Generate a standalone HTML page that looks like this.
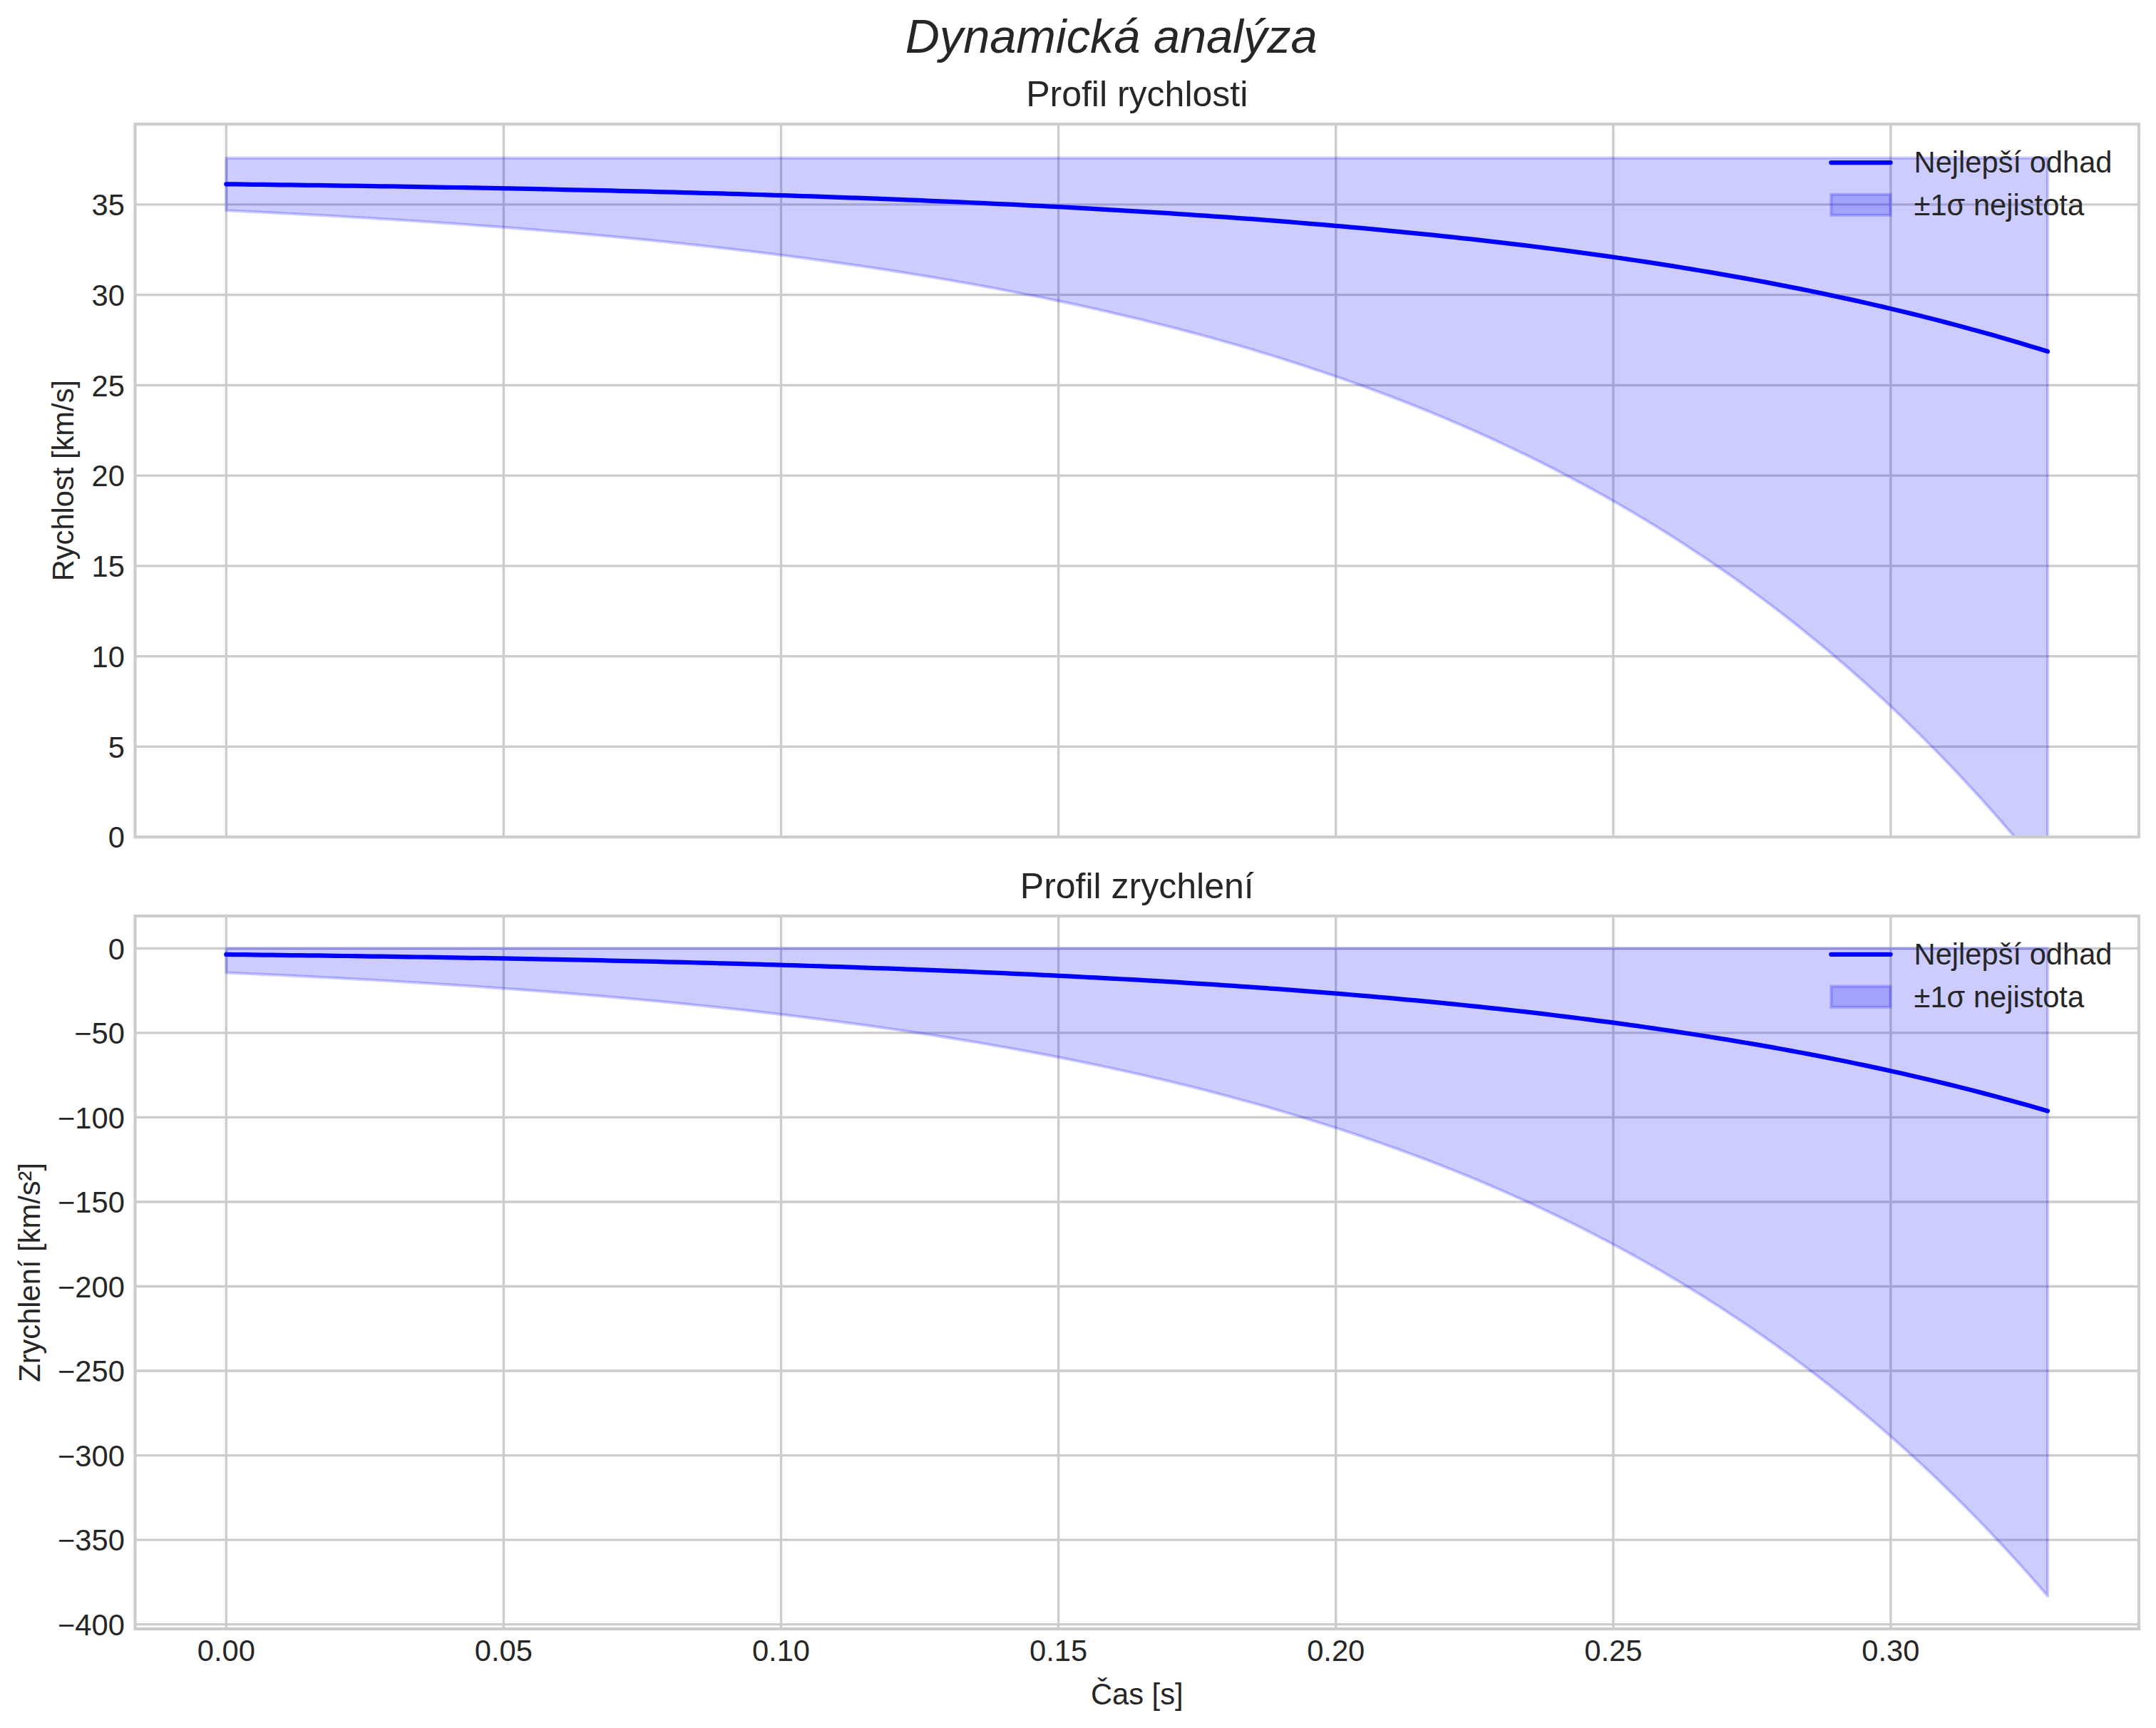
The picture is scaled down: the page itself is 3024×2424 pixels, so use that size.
<!DOCTYPE html>
<html lang="cs"><head><meta charset="utf-8"><title>Dynamická analýza</title>
<style>html,body{margin:0;padding:0;background:#fff;overflow:hidden}body{width:3024px;height:2424px}svg{display:block}text{font-family:"Liberation Sans",sans-serif;fill:#262626}</style>
</head><body>
<svg width="3024" height="2424" viewBox="0 0 3024 2424">
<rect width="3024" height="2424" fill="#fff"/>
<defs><clipPath id="c1"><rect x="189.5" y="174.1" width="2810.5" height="1000.1"/></clipPath><clipPath id="c2"><rect x="189.5" y="1284.9" width="2810.5" height="1000"/></clipPath></defs>
<g clip-path="url(#c1)">
<g stroke="#cccccc" stroke-width="3.33" fill="none">
<line x1="317.3" y1="174.1" x2="317.3" y2="1174.2"/>
<line x1="706.4" y1="174.1" x2="706.4" y2="1174.2"/>
<line x1="1095.5" y1="174.1" x2="1095.5" y2="1174.2"/>
<line x1="1484.6" y1="174.1" x2="1484.6" y2="1174.2"/>
<line x1="1873.7" y1="174.1" x2="1873.7" y2="1174.2"/>
<line x1="2262.8" y1="174.1" x2="2262.8" y2="1174.2"/>
<line x1="2651.9" y1="174.1" x2="2651.9" y2="1174.2"/>
<line x1="189.5" y1="1174.2" x2="3000" y2="1174.2"/>
<line x1="189.5" y1="1047.45" x2="3000" y2="1047.45"/>
<line x1="189.5" y1="920.7" x2="3000" y2="920.7"/>
<line x1="189.5" y1="793.95" x2="3000" y2="793.95"/>
<line x1="189.5" y1="667.2" x2="3000" y2="667.2"/>
<line x1="189.5" y1="540.45" x2="3000" y2="540.45"/>
<line x1="189.5" y1="413.7" x2="3000" y2="413.7"/>
<line x1="189.5" y1="286.95" x2="3000" y2="286.95"/>
</g>
<polygon points="317.3,295.26 330.14,295.87 342.98,296.49 355.81,297.11 368.65,297.75 381.49,298.4 394.33,299.06 407.17,299.73 420,300.41 432.84,301.1 445.68,301.8 458.52,302.52 471.36,303.25 484.19,303.98 497.03,304.74 509.87,305.5 522.71,306.28 535.55,307.07 548.38,307.87 561.22,308.68 574.06,309.51 586.9,310.36 599.73,311.21 612.57,312.09 625.41,312.97 638.25,313.87 651.09,314.79 663.92,315.72 676.76,316.67 689.6,317.63 702.44,318.61 715.28,319.6 728.11,320.61 740.95,321.64 753.79,322.69 766.63,323.75 779.47,324.83 792.3,325.93 805.14,327.04 817.98,328.18 830.82,329.33 843.66,330.51 856.49,331.7 869.33,332.91 882.17,334.14 895.01,335.4 907.85,336.67 920.68,337.97 933.52,339.28 946.36,340.62 959.2,341.98 972.04,343.36 984.87,344.77 997.71,346.2 1010.55,347.65 1023.39,349.13 1036.23,350.63 1049.06,352.16 1061.9,353.71 1074.74,355.29 1087.58,356.9 1100.42,358.53 1113.25,360.19 1126.09,361.87 1138.93,363.59 1151.77,365.33 1164.6,367.1 1177.44,368.9 1190.28,370.74 1203.12,372.6 1215.96,374.49 1228.79,376.41 1241.63,378.37 1254.47,380.36 1267.31,382.38 1280.15,384.44 1292.98,386.53 1305.82,388.65 1318.66,390.81 1331.5,393.01 1344.34,395.24 1357.17,397.51 1370.01,399.82 1382.85,402.16 1395.69,404.54 1408.53,406.97 1421.36,409.43 1434.2,411.94 1447.04,414.49 1459.88,417.08 1472.72,419.71 1485.55,422.38 1498.39,425.11 1511.23,427.87 1524.07,430.68 1536.91,433.54 1549.74,436.45 1562.58,439.4 1575.42,442.41 1588.26,445.46 1601.1,448.57 1613.93,451.72 1626.77,454.93 1639.61,458.19 1652.45,461.51 1665.29,464.88 1678.12,468.31 1690.96,471.79 1703.8,475.34 1716.64,478.94 1729.47,482.6 1742.31,486.32 1755.15,490.11 1767.99,493.95 1780.83,497.87 1793.66,501.84 1806.5,505.88 1819.34,509.99 1832.18,514.17 1845.02,518.42 1857.85,522.74 1870.69,527.13 1883.53,531.59 1896.37,536.13 1909.21,540.74 1922.04,545.43 1934.88,550.2 1947.72,555.05 1960.56,559.97 1973.4,564.98 1986.23,570.08 1999.07,575.25 2011.91,580.52 2024.75,585.87 2037.59,591.31 2050.42,596.84 2063.26,602.46 2076.1,608.18 2088.94,613.99 2101.78,619.9 2114.61,625.9 2127.45,632.01 2140.29,638.22 2153.13,644.53 2165.97,650.94 2178.8,657.47 2191.64,664.1 2204.48,670.84 2217.32,677.69 2230.16,684.66 2242.99,691.74 2255.83,698.94 2268.67,706.27 2281.51,713.71 2294.34,721.28 2307.18,728.97 2320.02,736.79 2332.86,744.74 2345.7,752.82 2358.53,761.04 2371.37,769.39 2384.21,777.89 2397.05,786.52 2409.89,795.3 2422.72,804.22 2435.56,813.29 2448.4,822.52 2461.24,831.89 2474.08,841.43 2486.91,851.12 2499.75,860.97 2512.59,870.99 2525.43,881.17 2538.27,891.52 2551.1,902.04 2563.94,912.74 2576.78,923.62 2589.62,934.68 2602.46,945.92 2615.29,957.35 2628.13,968.97 2640.97,980.78 2653.81,992.79 2666.65,1005 2679.48,1017.41 2692.32,1030.03 2705.16,1042.86 2718,1055.9 2730.84,1069.16 2743.67,1082.64 2756.51,1096.34 2769.35,1110.27 2782.19,1124.44 2795.03,1138.84 2807.86,1153.47 2820.7,1168.36 2833.54,1183.49 2846.38,1198.87 2859.21,1214.5 2872.05,1230.4 2872.05,221.67 317.3,221.67" fill="#0000ff" fill-opacity="0.2" stroke="#0000ff" stroke-opacity="0.2" stroke-width="4.17" stroke-linejoin="round"/>
<polyline points="317.3,258.33 330.14,258.48 342.98,258.64 355.81,258.79 368.65,258.95 381.49,259.12 394.33,259.28 407.17,259.45 420,259.62 432.84,259.79 445.68,259.97 458.52,260.15 471.36,260.33 484.19,260.52 497.03,260.71 509.87,260.9 522.71,261.09 535.55,261.29 548.38,261.49 561.22,261.7 574.06,261.91 586.9,262.12 599.73,262.33 612.57,262.55 625.41,262.78 638.25,263 651.09,263.23 663.92,263.47 676.76,263.7 689.6,263.94 702.44,264.19 715.28,264.44 728.11,264.69 740.95,264.95 753.79,265.21 766.63,265.48 779.47,265.75 792.3,266.03 805.14,266.31 817.98,266.59 830.82,266.88 843.66,267.18 856.49,267.48 869.33,267.78 882.17,268.09 895.01,268.4 907.85,268.72 920.68,269.05 933.52,269.38 946.36,269.72 959.2,270.06 972.04,270.4 984.87,270.76 997.71,271.12 1010.55,271.48 1023.39,271.85 1036.23,272.23 1049.06,272.61 1061.9,273 1074.74,273.4 1087.58,273.8 1100.42,274.21 1113.25,274.63 1126.09,275.05 1138.93,275.48 1151.77,275.92 1164.6,276.36 1177.44,276.82 1190.28,277.28 1203.12,277.74 1215.96,278.22 1228.79,278.7 1241.63,279.19 1254.47,279.69 1267.31,280.2 1280.15,280.72 1292.98,281.24 1305.82,281.77 1318.66,282.32 1331.5,282.87 1344.34,283.43 1357.17,284 1370.01,284.58 1382.85,285.17 1395.69,285.76 1408.53,286.37 1421.36,286.99 1434.2,287.62 1447.04,288.26 1459.88,288.91 1472.72,289.57 1485.55,290.24 1498.39,290.93 1511.23,291.62 1524.07,292.33 1536.91,293.04 1549.74,293.77 1562.58,294.51 1575.42,295.27 1588.26,296.04 1601.1,296.82 1613.93,297.61 1626.77,298.41 1639.61,299.23 1652.45,300.06 1665.29,300.91 1678.12,301.77 1690.96,302.65 1703.8,303.54 1716.64,304.44 1729.47,305.36 1742.31,306.29 1755.15,307.24 1767.99,308.21 1780.83,309.19 1793.66,310.19 1806.5,311.2 1819.34,312.24 1832.18,313.28 1845.02,314.35 1857.85,315.44 1870.69,316.54 1883.53,317.66 1896.37,318.8 1909.21,319.96 1922.04,321.13 1934.88,322.33 1947.72,323.55 1960.56,324.78 1973.4,326.04 1986.23,327.32 1999.07,328.62 2011.91,329.94 2024.75,331.28 2037.59,332.65 2050.42,334.04 2063.26,335.45 2076.1,336.88 2088.94,338.34 2101.78,339.83 2114.61,341.33 2127.45,342.87 2140.29,344.43 2153.13,346.01 2165.97,347.62 2178.8,349.26 2191.64,350.92 2204.48,352.62 2217.32,354.34 2230.16,356.08 2242.99,357.86 2255.83,359.67 2268.67,361.51 2281.51,363.38 2294.34,365.28 2307.18,367.21 2320.02,369.17 2332.86,371.17 2345.7,373.2 2358.53,375.26 2371.37,377.36 2384.21,379.49 2397.05,381.66 2409.89,383.86 2422.72,386.1 2435.56,388.38 2448.4,390.69 2461.24,393.05 2474.08,395.44 2486.91,397.87 2499.75,400.35 2512.59,402.86 2525.43,405.42 2538.27,408.02 2551.1,410.66 2563.94,413.34 2576.78,416.07 2589.62,418.85 2602.46,421.67 2615.29,424.54 2628.13,427.46 2640.97,430.42 2653.81,433.44 2666.65,436.5 2679.48,439.62 2692.32,442.79 2705.16,446.01 2718,449.28 2730.84,452.61 2743.67,455.99 2756.51,459.44 2769.35,462.93 2782.19,466.49 2795.03,470.1 2807.86,473.78 2820.7,477.51 2833.54,481.31 2846.38,485.17 2859.21,489.1 2872.05,493.09" fill="none" stroke="#0000ff" stroke-width="6.25" stroke-linecap="round" stroke-linejoin="round"/>
</g>
<rect x="189.5" y="174.1" width="2810.5" height="1000.1" fill="none" stroke="#cccccc" stroke-width="4.17"/>
<text x="1594.75" y="149" font-size="50" text-anchor="middle">Profil rychlosti</text>
<text x="174.9" y="1189" font-size="41.67" text-anchor="end">0</text>
<text x="174.9" y="1063" font-size="41.67" text-anchor="end">5</text>
<text x="174.9" y="936" font-size="41.67" text-anchor="end">10</text>
<text x="174.9" y="809" font-size="41.67" text-anchor="end">15</text>
<text x="174.9" y="682" font-size="41.67" text-anchor="end">20</text>
<text x="174.9" y="556" font-size="41.67" text-anchor="end">25</text>
<text x="174.9" y="429" font-size="41.67" text-anchor="end">30</text>
<text x="174.9" y="302" font-size="41.67" text-anchor="end">35</text>
<text transform="translate(103 674.15) rotate(-90)" font-size="41.67" text-anchor="middle">Rychlost [km/s]</text>
<line x1="2568.3" y1="228" x2="2651.6" y2="228" stroke="#0000ff" stroke-width="6.25" stroke-linecap="round"/>
<text x="2684.6" y="242.2" font-size="41.67">Nejlepší odhad</text>
<rect x="2568.3" y="272.8" width="83.3" height="29.2" fill="#0000ff" fill-opacity="0.2" stroke="#0000ff" stroke-opacity="0.2" stroke-width="4.17"/>
<text x="2684.6" y="301.8" font-size="41.67">±1σ nejistota</text>
<g clip-path="url(#c2)">
<g stroke="#cccccc" stroke-width="3.33" fill="none">
<line x1="317.3" y1="1284.9" x2="317.3" y2="2284.9"/>
<line x1="706.4" y1="1284.9" x2="706.4" y2="2284.9"/>
<line x1="1095.5" y1="1284.9" x2="1095.5" y2="2284.9"/>
<line x1="1484.6" y1="1284.9" x2="1484.6" y2="2284.9"/>
<line x1="1873.7" y1="1284.9" x2="1873.7" y2="2284.9"/>
<line x1="2262.8" y1="1284.9" x2="2262.8" y2="2284.9"/>
<line x1="2651.9" y1="1284.9" x2="2651.9" y2="2284.9"/>
<line x1="189.5" y1="1330.4" x2="3000" y2="1330.4"/>
<line x1="189.5" y1="1448.93" x2="3000" y2="1448.93"/>
<line x1="189.5" y1="1567.45" x2="3000" y2="1567.45"/>
<line x1="189.5" y1="1685.98" x2="3000" y2="1685.98"/>
<line x1="189.5" y1="1804.5" x2="3000" y2="1804.5"/>
<line x1="189.5" y1="1923.03" x2="3000" y2="1923.03"/>
<line x1="189.5" y1="2041.55" x2="3000" y2="2041.55"/>
<line x1="189.5" y1="2160.07" x2="3000" y2="2160.07"/>
<line x1="189.5" y1="2278.6" x2="3000" y2="2278.6"/>
</g>
<polygon points="317.3,1364.49 330.14,1365.05 342.98,1365.63 355.81,1366.22 368.65,1366.81 381.49,1367.42 394.33,1368.03 407.17,1368.66 420,1369.3 432.84,1369.94 445.68,1370.6 458.52,1371.27 471.36,1371.95 484.19,1372.64 497.03,1373.34 509.87,1374.06 522.71,1374.78 535.55,1375.52 548.38,1376.27 561.22,1377.04 574.06,1377.81 586.9,1378.6 599.73,1379.4 612.57,1380.22 625.41,1381.05 638.25,1381.89 651.09,1382.75 663.92,1383.62 676.76,1384.5 689.6,1385.4 702.44,1386.32 715.28,1387.25 728.11,1388.19 740.95,1389.15 753.79,1390.13 766.63,1391.12 779.47,1392.13 792.3,1393.16 805.14,1394.2 817.98,1395.27 830.82,1396.34 843.66,1397.44 856.49,1398.56 869.33,1399.69 882.17,1400.84 895.01,1402.01 907.85,1403.21 920.68,1404.42 933.52,1405.65 946.36,1406.9 959.2,1408.17 972.04,1409.47 984.87,1410.78 997.71,1412.12 1010.55,1413.48 1023.39,1414.86 1036.23,1416.26 1049.06,1417.69 1061.9,1419.14 1074.74,1420.62 1087.58,1422.12 1100.42,1423.65 1113.25,1425.2 1126.09,1426.78 1138.93,1428.38 1151.77,1430.01 1164.6,1431.66 1177.44,1433.35 1190.28,1435.06 1203.12,1436.8 1215.96,1438.57 1228.79,1440.37 1241.63,1442.2 1254.47,1444.06 1267.31,1445.95 1280.15,1447.87 1292.98,1449.83 1305.82,1451.81 1318.66,1453.83 1331.5,1455.89 1344.34,1457.97 1357.17,1460.1 1370.01,1462.25 1382.85,1464.45 1395.69,1466.68 1408.53,1468.94 1421.36,1471.25 1434.2,1473.59 1447.04,1475.97 1459.88,1478.39 1472.72,1480.86 1485.55,1483.36 1498.39,1485.9 1511.23,1488.49 1524.07,1491.12 1536.91,1493.79 1549.74,1496.51 1562.58,1499.27 1575.42,1502.08 1588.26,1504.94 1601.1,1507.84 1613.93,1510.79 1626.77,1513.79 1639.61,1516.84 1652.45,1519.94 1665.29,1523.1 1678.12,1526.3 1690.96,1529.56 1703.8,1532.87 1716.64,1536.24 1729.47,1539.67 1742.31,1543.15 1755.15,1546.69 1767.99,1550.28 1780.83,1553.94 1793.66,1557.66 1806.5,1561.44 1819.34,1565.28 1832.18,1569.19 1845.02,1573.16 1857.85,1577.2 1870.69,1581.31 1883.53,1585.48 1896.37,1589.72 1909.21,1594.03 1922.04,1598.42 1934.88,1602.88 1947.72,1607.41 1960.56,1612.02 1973.4,1616.7 1986.23,1621.47 1999.07,1626.31 2011.91,1631.23 2024.75,1636.23 2037.59,1641.32 2050.42,1646.49 2063.26,1651.75 2076.1,1657.09 2088.94,1662.53 2101.78,1668.05 2114.61,1673.67 2127.45,1679.38 2140.29,1685.18 2153.13,1691.09 2165.97,1697.09 2178.8,1703.19 2191.64,1709.39 2204.48,1715.69 2217.32,1722.1 2230.16,1728.61 2242.99,1735.24 2255.83,1741.97 2268.67,1748.82 2281.51,1755.78 2294.34,1762.85 2307.18,1770.05 2320.02,1777.36 2332.86,1784.79 2345.7,1792.35 2358.53,1800.04 2371.37,1807.85 2384.21,1815.79 2397.05,1823.86 2409.89,1832.07 2422.72,1840.42 2435.56,1848.9 2448.4,1857.53 2461.24,1866.29 2474.08,1875.21 2486.91,1884.27 2499.75,1893.48 2512.59,1902.85 2525.43,1912.37 2538.27,1922.05 2551.1,1931.89 2563.94,1941.9 2576.78,1952.07 2589.62,1962.41 2602.46,1972.92 2615.29,1983.61 2628.13,1994.48 2640.97,2005.52 2653.81,2016.75 2666.65,2028.17 2679.48,2039.78 2692.32,2051.57 2705.16,2063.57 2718,2075.77 2730.84,2088.16 2743.67,2100.77 2756.51,2113.58 2769.35,2126.61 2782.19,2139.85 2795.03,2153.32 2807.86,2167.01 2820.7,2180.92 2833.54,2195.07 2846.38,2209.45 2859.21,2224.08 2872.05,2238.94 2872.05,1330.4 317.3,1330.4" fill="#0000ff" fill-opacity="0.2" stroke="#0000ff" stroke-opacity="0.2" stroke-width="4.17" stroke-linejoin="round"/>
<polyline points="317.3,1338.96 330.14,1339.1 342.98,1339.24 355.81,1339.39 368.65,1339.54 381.49,1339.69 394.33,1339.85 407.17,1340.01 420,1340.16 432.84,1340.33 445.68,1340.49 458.52,1340.66 471.36,1340.83 484.19,1341 497.03,1341.18 509.87,1341.36 522.71,1341.54 535.55,1341.73 548.38,1341.92 561.22,1342.11 574.06,1342.3 586.9,1342.5 599.73,1342.7 612.57,1342.91 625.41,1343.11 638.25,1343.33 651.09,1343.54 663.92,1343.76 676.76,1343.98 689.6,1344.21 702.44,1344.44 715.28,1344.67 728.11,1344.91 740.95,1345.15 753.79,1345.39 766.63,1345.64 779.47,1345.9 792.3,1346.16 805.14,1346.42 817.98,1346.68 830.82,1346.95 843.66,1347.23 856.49,1347.51 869.33,1347.79 882.17,1348.08 895.01,1348.38 907.85,1348.68 920.68,1348.98 933.52,1349.29 946.36,1349.6 959.2,1349.92 972.04,1350.25 984.87,1350.58 997.71,1350.91 1010.55,1351.26 1023.39,1351.6 1036.23,1351.96 1049.06,1352.31 1061.9,1352.68 1074.74,1353.05 1087.58,1353.43 1100.42,1353.81 1113.25,1354.2 1126.09,1354.59 1138.93,1355 1151.77,1355.41 1164.6,1355.82 1177.44,1356.24 1190.28,1356.67 1203.12,1357.11 1215.96,1357.56 1228.79,1358.01 1241.63,1358.47 1254.47,1358.93 1267.31,1359.41 1280.15,1359.89 1292.98,1360.38 1305.82,1360.88 1318.66,1361.39 1331.5,1361.9 1344.34,1362.43 1357.17,1362.96 1370.01,1363.5 1382.85,1364.05 1395.69,1364.61 1408.53,1365.18 1421.36,1365.76 1434.2,1366.35 1447.04,1366.94 1459.88,1367.55 1472.72,1368.17 1485.55,1368.8 1498.39,1369.44 1511.23,1370.09 1524.07,1370.75 1536.91,1371.42 1549.74,1372.1 1562.58,1372.79 1575.42,1373.5 1588.26,1374.22 1601.1,1374.95 1613.93,1375.69 1626.77,1376.44 1639.61,1377.21 1652.45,1377.98 1665.29,1378.78 1678.12,1379.58 1690.96,1380.4 1703.8,1381.23 1716.64,1382.08 1729.47,1382.93 1742.31,1383.81 1755.15,1384.7 1767.99,1385.6 1780.83,1386.52 1793.66,1387.45 1806.5,1388.4 1819.34,1389.37 1832.18,1390.35 1845.02,1391.34 1857.85,1392.36 1870.69,1393.39 1883.53,1394.44 1896.37,1395.5 1909.21,1396.58 1922.04,1397.68 1934.88,1398.8 1947.72,1399.94 1960.56,1401.1 1973.4,1402.27 1986.23,1403.47 1999.07,1404.69 2011.91,1405.92 2024.75,1407.18 2037.59,1408.45 2050.42,1409.75 2063.26,1411.07 2076.1,1412.41 2088.94,1413.78 2101.78,1415.17 2114.61,1416.58 2127.45,1418.01 2140.29,1419.47 2153.13,1420.95 2165.97,1422.45 2178.8,1423.99 2191.64,1425.54 2204.48,1427.12 2217.32,1428.73 2230.16,1430.37 2242.99,1432.03 2255.83,1433.72 2268.67,1435.44 2281.51,1437.19 2294.34,1438.96 2307.18,1440.77 2320.02,1442.61 2332.86,1444.47 2345.7,1446.37 2358.53,1448.3 2371.37,1450.26 2384.21,1452.25 2397.05,1454.28 2409.89,1456.34 2422.72,1458.44 2435.56,1460.57 2448.4,1462.73 2461.24,1464.93 2474.08,1467.17 2486.91,1469.45 2499.75,1471.76 2512.59,1474.11 2525.43,1476.5 2538.27,1478.93 2551.1,1481.4 2563.94,1483.91 2576.78,1486.47 2589.62,1489.06 2602.46,1491.7 2615.29,1494.38 2628.13,1497.11 2640.97,1499.88 2653.81,1502.7 2666.65,1505.57 2679.48,1508.48 2692.32,1511.45 2705.16,1514.46 2718,1517.52 2730.84,1520.63 2743.67,1523.8 2756.51,1527.01 2769.35,1530.28 2782.19,1533.61 2795.03,1536.99 2807.86,1540.42 2820.7,1543.92 2833.54,1547.47 2846.38,1551.08 2859.21,1554.75 2872.05,1558.48" fill="none" stroke="#0000ff" stroke-width="6.25" stroke-linecap="round" stroke-linejoin="round"/>
</g>
<rect x="189.5" y="1284.9" width="2810.5" height="1000" fill="none" stroke="#cccccc" stroke-width="4.17"/>
<text x="1594.75" y="1260" font-size="50" text-anchor="middle">Profil zrychlení</text>
<text x="174.9" y="1346" font-size="41.67" text-anchor="end">0</text>
<text x="174.9" y="1464" font-size="41.67" text-anchor="end">−50</text>
<text x="174.9" y="1583" font-size="41.67" text-anchor="end">−100</text>
<text x="174.9" y="1701" font-size="41.67" text-anchor="end">−150</text>
<text x="174.9" y="1820" font-size="41.67" text-anchor="end">−200</text>
<text x="174.9" y="1938" font-size="41.67" text-anchor="end">−250</text>
<text x="174.9" y="2057" font-size="41.67" text-anchor="end">−300</text>
<text x="174.9" y="2175" font-size="41.67" text-anchor="end">−350</text>
<text x="174.9" y="2294" font-size="41.67" text-anchor="end">−400</text>
<text transform="translate(55.9 1784.9) rotate(-90)" font-size="41.67" text-anchor="middle">Zrychlení [km/s²]</text>
<line x1="2568.3" y1="1338.8" x2="2651.6" y2="1338.8" stroke="#0000ff" stroke-width="6.25" stroke-linecap="round"/>
<text x="2684.6" y="1353" font-size="41.67">Nejlepší odhad</text>
<rect x="2568.3" y="1383.6" width="83.3" height="29.2" fill="#0000ff" fill-opacity="0.2" stroke="#0000ff" stroke-opacity="0.2" stroke-width="4.17"/>
<text x="2684.6" y="1412.6" font-size="41.67">±1σ nejistota</text>
<text x="1558.7" y="73.9" font-size="66.67" font-style="italic" text-anchor="middle">Dynamická analýza</text>
<text x="317.3" y="2329.9" font-size="41.67" text-anchor="middle">0.00</text>
<text x="706.4" y="2329.9" font-size="41.67" text-anchor="middle">0.05</text>
<text x="1095.5" y="2329.9" font-size="41.67" text-anchor="middle">0.10</text>
<text x="1484.6" y="2329.9" font-size="41.67" text-anchor="middle">0.15</text>
<text x="1873.7" y="2329.9" font-size="41.67" text-anchor="middle">0.20</text>
<text x="2262.8" y="2329.9" font-size="41.67" text-anchor="middle">0.25</text>
<text x="2651.9" y="2329.9" font-size="41.67" text-anchor="middle">0.30</text>
<text x="1594.75" y="2391.4" font-size="41.67" text-anchor="middle">Čas [s]</text>
</svg></body></html>
